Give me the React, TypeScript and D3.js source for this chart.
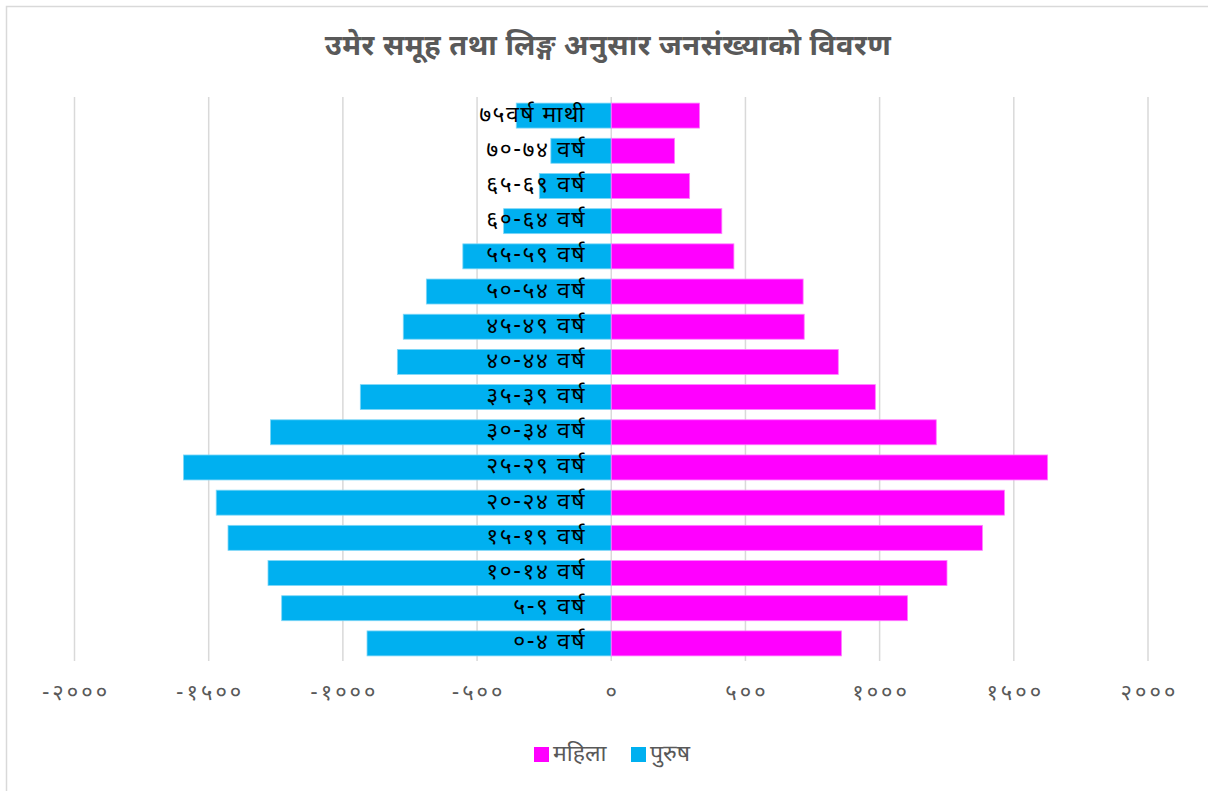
import React from "react";
import * as d3 from "d3";

const categories = [
  "७५वर्ष माथी",
  "७०-७४ वर्ष",
  "६५-६९ वर्ष",
  "६०-६४ वर्ष",
  "५५-५९ वर्ष",
  "५०-५४ वर्ष",
  "४५-४९ वर्ष",
  "४०-४४ वर्ष",
  "३५-३९ वर्ष",
  "३०-३४ वर्ष",
  "२५-२९ वर्ष",
  "२०-२४ वर्ष",
  "१५-१९ वर्ष",
  "१०-१४ वर्ष",
  "५-९ वर्ष",
  "०-४ वर्ष",
];
const female = [329, 236, 292, 412, 457, 715, 719, 846, 984, 1211, 1626, 1465, 1383, 1251, 1104, 858];
const male = [-354, -225, -268, -401, -553, -689, -775, -797, -935, -1270, -1594, -1472, -1428, -1279, -1228, -910];
const tickValues = [-2000, -1500, -1000, -500, 0, 500, 1000, 1500, 2000];
const title = "उमेर समूह तथा लिङ्ग अनुसार जनसंख्याको विवरण";
const legendItems = [
  { name: "महिला", color: "#FF00FF" },
  { name: "पुरुष", color: "#00B0F0" },
];

const devDigits = "०१२३४५६७८९";
const toDev = (n: number) =>
  String(n)
    .split("")
    .map((c) => (c >= "0" && c <= "9" ? devDigits[+c] : c === "-" ? "-" : c))
    .join("");

const FONT = "'Noto Sans Devanagari', 'Noto Sans', sans-serif";

export default function App() {
  const W = 1208;
  const H = 791;
  const x = d3.scaleLinear().domain([-2000, 2000]).range([74.5, 1148]);
  const y = d3
    .scaleBand<string>()
    .domain(categories)
    .range([98, 661])
    .paddingInner(0.29)
    .paddingOuter(0.145);
  const bw = y.bandwidth();

  return (
    <svg
      width={W}
      height={H}
      style={{ position: "absolute", left: 0, top: 0, background: "#fff" }}
      fontFamily={FONT}
    >
      <rect x={0} y={0} width={W} height={H} fill="#fff" />
      <rect x={6.5} y={6.5} width={W + 10} height={H + 10} fill="none" stroke="#D9D9D9" strokeWidth={1.5} />
      <text
        x={608}
        y={48}
        textAnchor="middle"
        dominantBaseline="central"
        fontSize={29}
        fontWeight="bold"
        fill="#595959"
        letterSpacing={0.5}
      >
        {title}
      </text>
      {tickValues.map((t) => (
        <line
          key={"g" + t}
          x1={x(t)}
          x2={x(t)}
          y1={97}
          y2={661}
          stroke="#D9D9D9"
          strokeWidth={1.5}
        />
      ))}
      {categories.map((c, i) => (
        <g key={c}>
          <rect
            x={x(male[i])}
            y={y(c)}
            width={x(0) - x(male[i])}
            height={bw}
            fill="#00B0F0"
            stroke="#7FD7F7"
            strokeWidth={0.8}
          />
          <rect
            x={x(0)}
            y={y(c)}
            width={x(female[i]) - x(0)}
            height={bw}
            fill="#FF00FF"
            stroke="#FF7FFF"
            strokeWidth={0.8}
          />
        </g>
      ))}
      {categories.map((c) => (
        <text
          key={"l" + c}
          x={586}
          y={(y(c) as number) + bw / 2}
          textAnchor="end"
          dominantBaseline="central"
          fontSize={23}
          letterSpacing={1.5}
          fill="#000"
        >
          {c}
        </text>
      ))}
      {tickValues.map((t) => (
        <text
          key={"t" + t}
          x={x(t) + 1.5}
          y={694}
          textAnchor="middle"
          dominantBaseline="central"
          fontSize={22}
          letterSpacing={3}
          fill="#595959"
        >
          {toDev(t)}
        </text>
      ))}
      {legendItems.map((l, i) => {
        const lx = i === 0 ? 534 : 631;
        return (
          <g key={l.name}>
            <rect x={lx} y={747} width={15} height={15} fill={l.color} />
            <text x={lx + 19} y={755} dominantBaseline="central" fontSize={23} fill="#595959">
              {l.name}
            </text>
          </g>
        );
      })}
    </svg>
  );
}
